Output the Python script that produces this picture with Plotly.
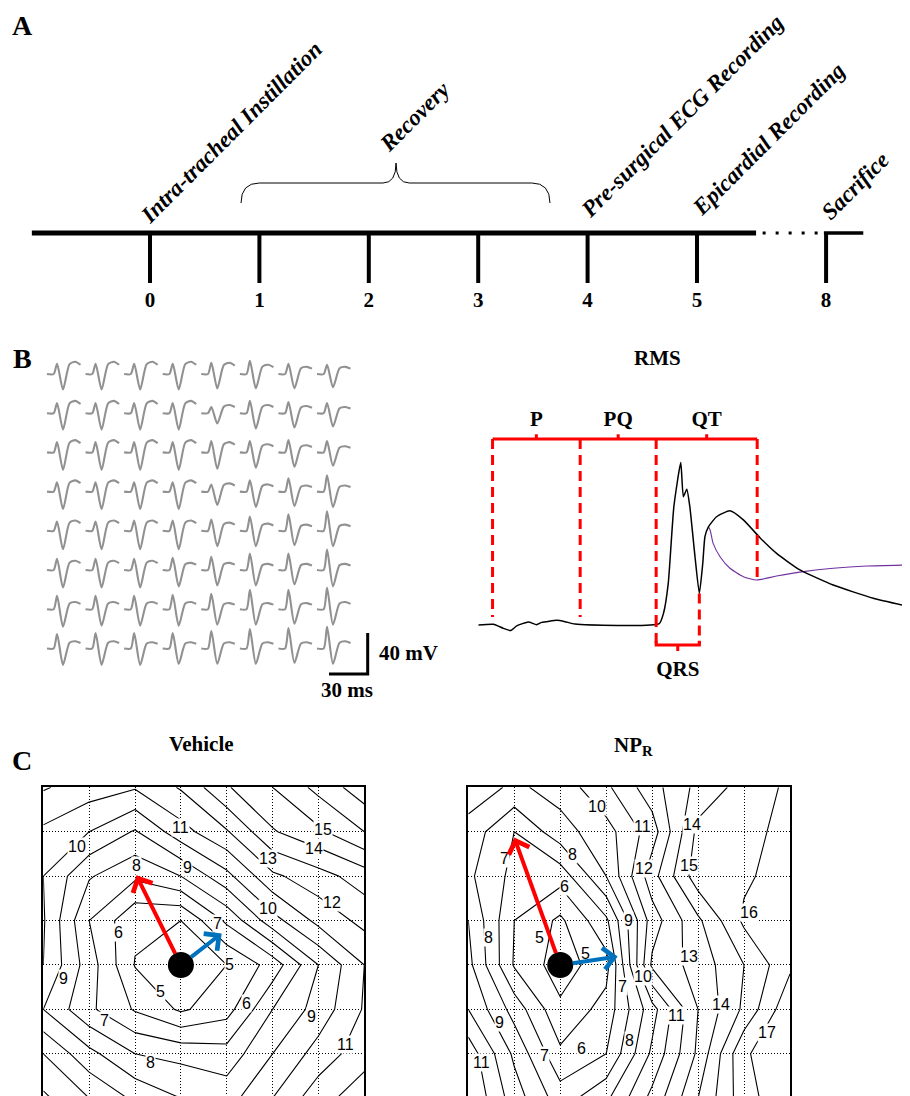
import plotly.graph_objects as go

OFF = 8                      # browser body margin
W, H = 910 - OFF, 1096 - OFF

# ---------------- Panel A data ----------------
days = [0, 1, 2, 3, 4, 5, 8]
day_labels = ["0", "1", "2", "3", "4", "5", "8"]
event_names = ["Intra-tracheal Instillation", "Recovery", "Pre-surgical ECG Recording",
               "Epicardial Recording", "Sacrifice"]
# label centre (timeline units, px above line)
event_x = [0.74, 2.42, 4.86, 5.65, 6.44]
event_y = [101, 117, 117, 94, 47]

# ---------------- Panel B data ----------------
# electrograms on the 8x8 array: R height, S depth, T height (mV)
R_AMP = [
    [10, 10, 10, 10, 11, 13, 10, 9],
    [10, 10, 10, 10, 6, 12, 11, 10],
    [10, 10, 10, 10, 11, 11, 12, 11],
    [9, 9, 9, 9, 7, 11, 13, 16],
    [9, 9, 10, 10, 11, 14, 16, 19],
    [11, 11, 11, 12, 13, 16, 16, 20],
    [13, 13, 13, 14, 15, 19, 19, 21],
    [14, 15, 15, 15, 17, 19, 20, 21],
]
S_AMP = [
    [15, 15, 15, 15, 14, 14, 14, 13],
    [16, 16, 16, 16, 10, 15, 14, 13],
    [17, 17, 17, 17, 16, 15, 14, 13],
    [17, 17, 17, 17, 13, 15, 14, 15],
    [18, 18, 18, 18, 15, 15, 14, 15],
    [17, 17, 17, 16, 15, 15, 14, 16],
    [17, 16, 16, 16, 15, 15, 14, 15],
    [16, 16, 16, 15, 15, 15, 14, 15],
]
T_AMP = [
    [12, 12, 12, 12, 11, 9, 7, 7],
    [12, 12, 12, 12, 8, 8, 7, 6],
    [12, 12, 12, 12, 10, 8, 7, 6],
    [11, 11, 11, 11, 8, 7, 6, 6],
    [10, 10, 10, 10, 8, 7, 6, 6],
    [9, 9, 9, 7, 7, 6, 6, 6],
    [7, 7, 7, 7, 6, 6, 6, 7],
    [7, 7, 6, 6, 6, 6, 6, 7],
]
BEAT_T = [0, 5.2, 7.8, 12.4, 17.5, 22.0, 26.0]   # knot times within a beat (ms)

RMS_T = [0, 3.5, 5.8, 7.5, 8.9, 11.6, 13.5, 14.7, 18.2, 20.1, 22.4, 41.9, 42.9, 44.0, 45.3,
         46.9, 47.5, 48.3, 49.0, 50.2, 51.2, 52.0, 52.5, 53.3, 55.2, 58.3, 61.4, 65.3, 69.1,
         74.5, 82.2, 91.5, 100]
RMS_V = [0, 0.4, -1.8, -3.0, -0.5, 1.6, 0.2, 1.4, 2.5, 1.8, 0.5, 0.7, 6.3, 22.4, 63.6,
         87.3, 69.0, 73.0, 63.6, 36.7, 17.0, 33.2, 47.5, 52.8, 58.2, 61.4, 56.5, 46.8, 38.5,
         29.6, 21.5, 14.4, 9.8]
RMS2_T = [53.3, 53.7, 54.4, 56.0, 58.3, 61.4, 64.5, 69.1, 75.3, 82.2, 90.0, 100]
RMS2_V = [52.8, 51.1, 43.9, 36.7, 30.5, 26.0, 24.2, 26.3, 28.7, 30.5, 31.7, 32.3]

seg_names = ["P", "PQ", "QT"]
seg_start = [3.3, 23.6, 41.2]
seg_end = [23.6, 41.2, 64.6]
seg_floor = [4.3, 4.3, 4.3]
qt_end_floor = 24.2
qrs_start, qrs_end = 41.2, 51.2
qrs_end_top = 17.0

# ---------------- Panel C data ----------------
VEHICLE = [
    [12.1, 11.5, 11.1, 12.1, 13.9, 15.0, 16.3, 17.6],
    [10.8, 10.0, 8.9, 10.6, 11.9, 13.9, 14.8, 16.0],
    [10.0, 8.1, 7.2, 8.0, 9.7, 11.8, 12.6, 13.5],
    [10.1, 7.0, 5.2, 5.0, 7.2, 9.6, 11.3, 12.3],
    [10.0, 7.5, 4.95, 4.3, 5.0, 6.4, 9.0, 11.0],
    [9.0, 7.2, 5.9, 4.85, 5.6, 8.0, 9.4, 11.1],
    [11.0, 9.3, 8.0, 7.7, 7.4, 9.0, 10.4, 11.6],
    [12.2, 11.0, 9.8, 9.0, 8.6, 10.0, 11.6, 12.6],
]
NPR = [
    [9.6, 8.8, 9.4, 10.8, 12.6, 14.3, 15.4, 16.2],
    [8.6, 7.0, 8.6, 9.6, 11.5, 15.3, 15.6, 16.4],
    [8.2, 6.7, 6.4, 9.0, 12.6, 15.6, 15.8, 16.6],
    [9.0, 6.0, 4.8, 6.8, 11.5, 13.8, 16.2, 16.6],
    [9.3, 5.9, 4.5, 5.6, 12.2, 13.4, 15.0, 16.8],
    [10.0, 7.6, 5.2, 6.4, 9.6, 13.0, 15.2, 17.8],
    [11.6, 8.8, 6.2, 7.0, 10.2, 13.2, 16.9, 17.6],
    [12.0, 9.5, 7.5, 8.8, 11.3, 14.0, 16.6, 17.8],
]
GRID = list(range(8))
# contour labels: level, column, row
veh_lab_val = [11, 15, 14, 10, 13, 8, 9, 12, 10, 7, 6, 5, 9, 5, 6, 7, 9, 8, 11]
veh_lab_x = [3.0, 6.1, 5.9, 0.73, 4.9, 2.04, 3.15, 6.3, 4.9, 3.8, 1.63, 4.05, 0.43, 2.55, 4.43, 1.34, 5.85, 2.33, 6.6]
veh_lab_y = [0.9, 0.96, 1.37, 1.34, 1.6, 1.75, 1.8, 2.6, 2.72, 3.06, 3.28, 4.0, 4.3, 4.6, 4.86, 5.24, 5.17, 6.2, 5.8]
npr_lab_val = [10, 11, 14, 7, 8, 12, 15, 6, 16, 9, 8, 5, 5, 13, 10, 7, 14, 11, 9, 17, 8, 6, 7, 11]
npr_lab_x = [2.8, 3.8, 4.87, 0.78, 2.26, 3.83, 4.8, 2.1, 6.1, 3.48, 0.45, 1.54, 2.55, 4.8, 3.81, 3.35, 5.5, 4.54, 0.67, 6.5, 3.5, 2.47, 1.66, 0.29]
npr_lab_y = [0.44, 0.89, 0.83, 1.6, 1.52, 1.82, 1.75, 2.24, 2.82, 2.99, 3.39, 3.39, 3.75, 3.81, 4.27, 4.48, 4.88, 5.13, 5.3, 5.53, 5.71, 5.88, 6.03, 6.2]

veh_origin = [3, 4]
veh_red_tip = [2.03, 1.98]
veh_blue_tip = [3.89, 3.29]
npr_origin = [2, 4]
npr_red_tip = [1.0, 1.13]
npr_blue_tip = [3.25, 3.81]

# ---------------- helpers (reference pixel -> paper) ----------------
def pxx(X):
    return (X - OFF) / W


def pxy(Y):
    return 1 - (Y - OFF) / H


SERIF = "Liberation Serif"
SANS = "Liberation Sans"
RED = "rgb(255,0,0)"
BLUE = "rgb(0,114,189)"

fig = go.Figure()

# ======== Panel A: timeline ========
BREAK_POS = 6.18


def tpos(d):
    return d if d <= 5 else BREAK_POS + (d - 8)


tick_pos = [tpos(d) for d in days]
fig.add_trace(go.Scatter(x=[-1.08, 5.54], y=[0, 0], mode="lines",
                         line=dict(color="black", width=5), xaxis="x", yaxis="y",
                         hoverinfo="skip", showlegend=False))
fig.add_trace(go.Scatter(x=[5.60, 6.14], y=[0, 0], mode="lines",
                         line=dict(color="black", width=3, dash="3px,10px"), xaxis="x", yaxis="y",
                         hoverinfo="skip", showlegend=False))
fig.add_trace(go.Scatter(x=[tpos(8) - 0.02, 6.52], y=[0, 0], mode="lines",
                         line=dict(color="black", width=3.5), xaxis="x", yaxis="y",
                         hoverinfo="skip", showlegend=False))
tx, ty = [], []
for p in tick_pos:
    tx += [p, p, None]
    ty += [0, -50, None]
fig.add_trace(go.Scatter(x=tx, y=ty, mode="lines", line=dict(color="black", width=4),
                         xaxis="x", yaxis="y", hoverinfo="skip", showlegend=False))
fig.add_trace(go.Scatter(x=tick_pos, y=[-69] * len(tick_pos), mode="text", text=day_labels,
                         textfont=dict(family=SERIF, size=21, color="black", weight="bold"),
                         xaxis="x", yaxis="y", hoverinfo="skip", showlegend=False))

annotations = []
for name, ex, ey in zip(event_names, event_x, event_y):
    annotations.append(dict(x=ex, y=ey, xref="x", yref="y", text=name, showarrow=False,
                            textangle=-45, xanchor="center", yanchor="middle",
                            font=dict(family=SERIF, size=23, color="black",
                                      weight="bold", style="italic")))

shapes = []
# brace over the recovery days
shapes.append(dict(type="path", xref="x", yref="y",
                   path="M 0.832,30 Q 0.832,50 1.0,50 L 2.13,50 Q 2.249,50 2.249,70 "
                        "Q 2.249,50 2.37,50 L 3.49,50 Q 3.656,50 3.656,30",
                   line=dict(color="black", width=1)))

# ======== Panel B left: electrogram array ========
CELL_DX = 29.9   # ms between columns
CELL_DY = 38.25  # mV between rows
wx, wy = [], []
for i in range(8):
    for j in range(8):
        r, s, t = R_AMP[i][j], S_AMP[i][j], T_AMP[i][j]
        vals = [0, 0, r, -s, 0.8 * t, t, 0.75 * t]
        for k in range(len(BEAT_T)):
            wx.append(j * CELL_DX + BEAT_T[k])
            wy.append(-i * CELL_DY + vals[k])
        wx.append(None)
        wy.append(None)
fig.add_trace(go.Scatter(x=wx, y=wy, mode="lines",
                         line=dict(color="rgb(145,145,145)", width=2.1, shape="spline", smoothing=0.7),
                         xaxis="x2", yaxis="y2", hoverinfo="skip", showlegend=False))
# scale bar: 30 ms x 40 mV
fig.add_trace(go.Scatter(x=[218.6, 248.6, 248.6], y=[-292.7, -292.7, -252.7], mode="lines",
                         line=dict(color="black", width=3), xaxis="x2", yaxis="y2",
                         hoverinfo="skip", showlegend=False))

# ======== Panel B right: RMS ========
fig.add_trace(go.Scatter(x=RMS2_T, y=RMS2_V, mode="lines",
                         line=dict(color="rgb(112,48,160)", width=1.1, shape="spline", smoothing=0.6),
                         xaxis="x3", yaxis="y3", hoverinfo="skip", showlegend=False))
fig.add_trace(go.Scatter(x=RMS_T, y=RMS_V, mode="lines",
                         line=dict(color="black", width=1.5, shape="spline", smoothing=0.5),
                         xaxis="x3", yaxis="y3", hoverinfo="skip", showlegend=False))
dx, dy = [], []
for s0, fl in zip(seg_start, seg_floor):
    dx += [s0, s0, None]
    dy += [100, fl, None]
dx += [seg_end[-1], seg_end[-1], None]
dy += [100, qt_end_floor, None]
dx += [qrs_end, qrs_end, None]
dy += [qrs_end_top, -10.8, None]
dx += [qrs_start, qrs_start, None]
dy += [4.3, -10.8, None]
fig.add_trace(go.Scatter(x=dx, y=dy, mode="lines", line=dict(color=RED, width=3, dash="10px,6px"),
                         xaxis="x3", yaxis="y3", hoverinfo="skip", showlegend=False))
bx = [seg_start[0], seg_end[-1], None]
by = [100, 100, None]
for s0, s1 in zip(seg_start, seg_end):
    m = (s0 + s1) / 2
    bx += [m, m, None]
    by += [100, 102.5, None]
bx += [qrs_start, qrs_start, qrs_end, qrs_end, None]
by += [-8.5, -10.8, -10.8, -8.5, None]
mq = (qrs_start + qrs_end) / 2
bx += [mq, mq, None]
by += [-10.8, -14.0, None]
fig.add_trace(go.Scatter(x=bx, y=by, mode="lines", line=dict(color=RED, width=3),
                         xaxis="x3", yaxis="y3", hoverinfo="skip", showlegend=False))
fig.add_trace(go.Scatter(x=[(a + b) / 2 for a, b in zip(seg_start, seg_end)] + [mq],
                         y=[110, 110, 110, -24.5], mode="text", text=seg_names + ["QRS"],
                         textfont=dict(family=SERIF, size=21, color="black", weight="bold"),
                         xaxis="x3", yaxis="y3", hoverinfo="skip", showlegend=False))

# ======== Panel C: activation maps ========
for z, xa, ya in [(VEHICLE, "x4", "y4"), (NPR, "x5", "y5")]:
    fig.add_trace(go.Contour(z=z, x=GRID, y=GRID, xaxis=xa, yaxis=ya,
                             contours=dict(start=5, end=17, size=1, coloring="lines",
                                           showlabels=False),
                             line=dict(width=1.1, smoothing=0),
                             colorscale=[[0, "black"], [1, "black"]], showscale=False,
                             hoverinfo="skip"))
for vals, lx, ly, xa, ya in [(veh_lab_val, veh_lab_x, veh_lab_y, "x4", "y4"),
                             (npr_lab_val, npr_lab_x, npr_lab_y, "x5", "y5")]:
    for v, x0, y0 in zip(vals, lx, ly):
        annotations.append(dict(x=x0, y=y0, xref=xa, yref=ya, text=str(v), showarrow=False,
                                bgcolor="white", borderpad=0,
                                font=dict(family=SANS, size=16, color="black")))
for org, xa, ya in [(veh_origin, "x4", "y4"), (npr_origin, "x5", "y5")]:
    fig.add_trace(go.Scatter(x=[org[0]], y=[org[1]], mode="markers",
                             marker=dict(size=26, color="black"), xaxis=xa, yaxis=ya,
                             hoverinfo="skip", showlegend=False))
for org, tip, col, xa, ya in [(veh_origin, veh_red_tip, RED, "x4", "y4"),
                              (veh_origin, veh_blue_tip, BLUE, "x4", "y4"),
                              (npr_origin, npr_red_tip, RED, "x5", "y5"),
                              (npr_origin, npr_blue_tip, BLUE, "x5", "y5")]:
    annotations.append(dict(x=tip[0], y=tip[1], ax=org[0], ay=org[1], xref=xa, yref=ya,
                            axref=xa, ayref=ya, text="", showarrow=True, arrowhead=4,
                            arrowsize=1.05, arrowwidth=4, arrowcolor=col, startstandoff=11))


# ======== paper texts ========
def ptext(X, Y, txt, size, xanchor="center"):
    annotations.append(dict(x=pxx(X), y=pxy(Y), xref="paper", yref="paper", text=txt,
                            showarrow=False, xanchor=xanchor, yanchor="middle",
                            font=dict(family=SERIF, size=size, color="black", weight="bold")))


ptext(22, 25, "A", 28)
ptext(22, 358, "B", 28)
ptext(22, 760, "C", 28)
ptext(657, 358, "RMS", 21)
ptext(377, 653, "40 mV", 21, xanchor="left")
ptext(347, 690, "30 ms", 21)
ptext(201, 744, "Vehicle", 21)
ptext(633, 746, "NP<sub>R</sub>", 21)

# ======== axes ========
hidden = dict(visible=False, showgrid=False, zeroline=False)
DAY_PX, DAY0_X = 109.4, 150
layout_axes = dict(
    xaxis=dict(domain=[0, 1], range=[(OFF - DAY0_X) / DAY_PX, (910 - DAY0_X) / DAY_PX],
               anchor="y", **hidden),
    yaxis=dict(domain=[pxy(330), 1], range=[233 - 330, 233 - OFF], anchor="x", **hidden),
    xaxis2=dict(domain=[pxx(40), pxx(445)], range=[(40 - 47) / 1.29, (445 - 47) / 1.29],
                anchor="y2", **hidden),
    yaxis2=dict(domain=[pxy(700), pxy(350)], range=[(374 - 700) / 1.025, (374 - 350) / 1.025],
                anchor="x2", **hidden),
    xaxis3=dict(domain=[pxx(478.3), 1], range=[0, 100], anchor="y3", **hidden),
    yaxis3=dict(domain=[pxy(690), pxy(350)], range=[(625 - 690) / 1.86, (625 - 350) / 1.86],
                anchor="x3", **hidden),
)
map_x = dict(range=[0, 7], showgrid=True, gridcolor="black", griddash="1px,2px", gridwidth=1,
             dtick=1, zeroline=False, showticklabels=False, ticks="", side="top",
             showline=True, linecolor="black", linewidth=1.5, mirror=False)
map_y = dict(range=[6.95, 0], showgrid=True, gridcolor="black", griddash="1px,2px", gridwidth=1,
             dtick=1, zeroline=False, showticklabels=False, ticks="", showline=True,
             linecolor="black", linewidth=1.5, mirror=True)
layout_axes["xaxis4"] = dict(domain=[pxx(43.3), pxx(364.3)], anchor="y4", **map_x)
layout_axes["yaxis4"] = dict(domain=[0, pxy(787.3)], anchor="x4", **map_y)
layout_axes["xaxis5"] = dict(domain=[pxx(468.3), pxx(790)], anchor="y5", **map_x)
layout_axes["yaxis5"] = dict(domain=[0, pxy(787.3)], anchor="x5", **map_y)

fig.update_layout(width=W, height=H, margin=dict(l=0, r=0, t=0, b=0),
                  paper_bgcolor="white", plot_bgcolor="white", showlegend=False,
                  annotations=annotations, shapes=shapes, **layout_axes)
fig.write_html("out.html")
